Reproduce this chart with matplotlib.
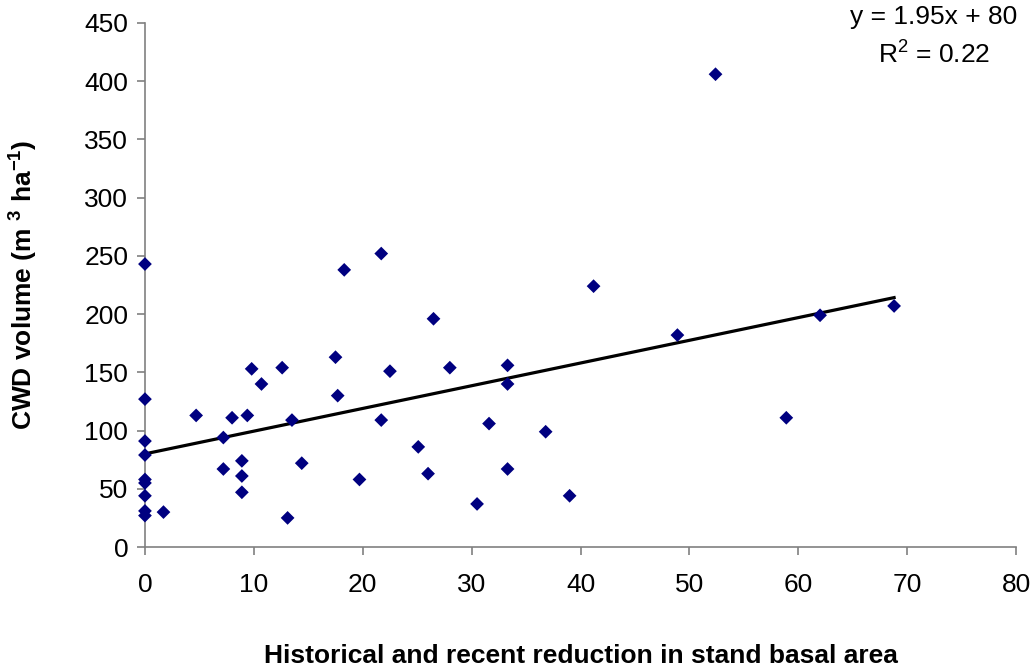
import numpy as np
import matplotlib
matplotlib.use("Agg")
import matplotlib.pyplot as plt

plt.rcParams['font.family'] = ['Liberation Sans', 'DejaVu Sans']
plt.rcParams['mathtext.default'] = 'regular'

# Reduction in stand basal area (x) and CWD volume (y)
reduction = [0, 0, 0, 0, 0, 0, 0, 0, 0,
             1.7, 4.7, 7.2, 7.2, 8.0, 8.9, 8.9, 8.9, 9.4, 9.8,
             10.7, 12.6, 13.1, 13.5, 14.4, 17.5, 17.7, 18.3, 19.7,
             21.7, 21.7, 22.5, 25.1, 26.0, 26.5, 28.0, 30.5, 31.6,
             33.3, 33.3, 33.3, 36.8, 39.0, 41.2, 48.9, 52.4, 58.9, 62.0, 68.8]
cwd_volume = [243, 127, 91, 79, 58, 55, 44, 31, 27,
              30, 113, 94, 67, 111, 74, 61, 47, 113, 153,
              140, 154, 25, 109, 72, 163, 130, 238, 58,
              252, 109, 151, 86, 63, 196, 154, 37, 106,
              156, 140, 67, 99, 44, 224, 182, 406, 111, 199, 207]

# Trend line as reported on the chart
slope, intercept = 1.95, 80
r_squared = 0.22

fig = plt.figure(figsize=(10.31, 6.68), dpi=100)
ax = fig.add_axes([0.1406, 0.1811, 0.8449, 0.7845])

ax.scatter(reduction, cwd_volume, marker='D', s=7**2, color='#000080',
           edgecolors='none', zorder=3, clip_on=False)

x_fit = np.array([min(reduction), max(reduction)])
ax.plot(x_fit, slope * x_fit + intercept, color='black', lw=2.3, zorder=2)

ax.set_xlim(0, 80)
ax.set_ylim(0, 450)
ax.set_xticks(np.arange(0, 81, 10))
ax.set_yticks(np.arange(0, 451, 50))

for side in ('top', 'right'):
    ax.spines[side].set_visible(False)
for side in ('left', 'bottom'):
    ax.spines[side].set_color('#808080')
    ax.spines[side].set_linewidth(1.2)
ax.tick_params(colors='#808080', labelcolor='black', labelsize=19,
               length=6, width=1.2, direction='out')
ax.tick_params(axis='x', pad=13)
ax.tick_params(axis='y', pad=6)

ax.set_xlabel("Historical and recent reduction in stand basal area",
              fontsize=19, fontweight='bold')
ax.xaxis.set_label_coords(0.5, -0.185)
ax.set_ylabel("CWD volume (m $^{3}$ ha$^{-1}$)", fontsize=19,
              fontweight='bold')
ax.yaxis.set_label_coords(-0.12, 0.5)

fig.text(0.906, 0.974, f"y = {slope}x + {intercept}", fontsize=19,
         ha='center', va='center')
fig.text(0.906, 0.917, f"R$^{{2}}$ = {r_squared}", fontsize=19,
         ha='center', va='center')

fig.savefig("out.png", dpi=100)
